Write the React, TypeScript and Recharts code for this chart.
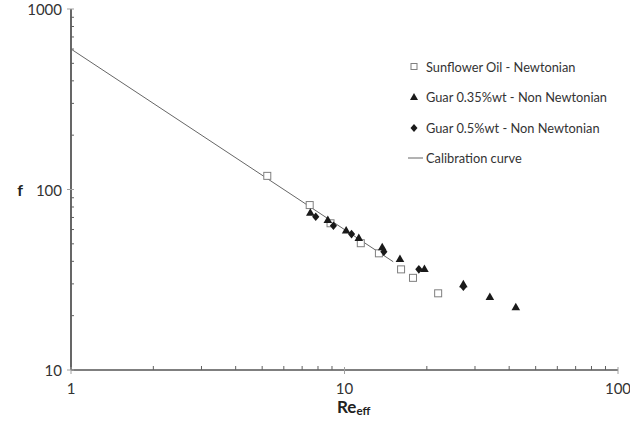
import React from 'react';
import { ScatterChart, Scatter, XAxis, YAxis } from 'recharts';

const sunflowerRe = [5.22, 7.46, 8.89, 11.47, 13.36, 16.1, 17.8, 22.0];
const sunflowerF = [119, 82, 65, 50.4, 44.3, 36.1, 32.4, 26.6];

const guar035Re = [7.5, 8.69, 10.14, 11.28, 13.74, 15.95, 19.6, 27.2, 34.0, 42.3];
const guar035F = [74.3, 67.8, 59.2, 53.8, 47.8, 41.2, 36.3, 29.9, 25.4, 22.3];

const guar05Re = [7.85, 9.11, 10.61, 13.93, 18.7, 27.2];
const guar05F = [70.6, 63, 56.6, 45.2, 36.1, 28.9];

const calibRe = [1, 15.07];
const calibF = [600, 39.8];

const xTicks = [1, 2, 3, 4, 5, 6, 7, 8, 9, 10, 20, 30, 40, 50, 60, 70, 80, 90, 100];
const yTicks = [10, 20, 30, 40, 50, 60, 70, 80, 90, 100, 200, 300, 400, 500, 600, 700, 800, 900, 1000];
const majorTicks = [1, 10, 100, 1000];

const legendLabels = [
  'Sunflower Oil - Newtonian',
  'Guar 0.35%wt - Non Newtonian',
  'Guar 0.5%wt - Non Newtonian',
  'Calibration curve',
];

const zip = (xs: number[], ys: number[]) => xs.map((x, i) => ({ re: x, f: ys[i] }));

const sunflower = zip(sunflowerRe, sunflowerF);
const guar035 = zip(guar035Re, guar035F);
const guar05 = zip(guar05Re, guar05F);
const calib = zip(calibRe, calibF);

const FONT = 'Lato, "Open Sans", sans-serif';
const TXT = '#333333';

const SquareShape = (p: any) => {
  const { cx, cy } = p;
  if (cx == null || cy == null) return null;
  return <rect x={cx - 3.5} y={cy - 3.5} width={7} height={7} fill="#ffffff" stroke="#7f7f7f" strokeWidth={1} />;
};

const TriangleShape = (p: any) => {
  const { cx, cy } = p;
  if (cx == null || cy == null) return null;
  return <polygon points={`${cx},${cy - 4.5} ${cx + 4.3},${cy + 3} ${cx - 4.3},${cy + 3}`} fill="#1a1a1a" />;
};

const DiamondShape = (p: any) => {
  const { cx, cy } = p;
  if (cx == null || cy == null) return null;
  return <polygon points={`${cx},${cy - 4.3} ${cx + 3.6},${cy} ${cx},${cy + 4.3} ${cx - 3.6},${cy}`} fill="#1a1a1a" />;
};

const NoShape = () => null;

const XTick = (p: any) => {
  const { x, y, payload } = p;
  const v = payload.value;
  if (majorTicks.includes(v)) {
    return (
      <g>
        <line x1={x} x2={x} y1={y - 3} y2={y + 4} stroke="#a0a0a0" strokeWidth={1} />
        <text x={x} y={y + 18} textAnchor="middle" dominantBaseline="central" fontSize={15} fontFamily={FONT} fill={TXT}>
          {v}
        </text>
      </g>
    );
  }
  return <line x1={x} x2={x} y1={y - 4} y2={y} stroke="#606060" strokeWidth={1} />;
};

const YTick = (p: any) => {
  const { x, y, payload } = p;
  const v = payload.value;
  if (majorTicks.includes(v)) {
    return (
      <g>
        <line x1={x - 4} x2={x + 3} y1={y} y2={y} stroke="#a0a0a0" strokeWidth={1} />
        <text x={x - 9} y={y} textAnchor="end" dominantBaseline="central" fontSize={15} fontFamily={FONT} fill={TXT}>
          {v}
        </text>
      </g>
    );
  }
  return <line x1={x} x2={x + 3} y1={y} y2={y} stroke="#606060" strokeWidth={1} />;
};

const Legend = () => {
  const rows = [66.5, 97, 128, 158];
  return (
    <svg width={630} height={422} style={{ position: 'absolute', left: 0, top: 0, pointerEvents: 'none' }}>
      <rect x={411} y={rows[0] - 3} width={6} height={6} fill="#fff" stroke="#7f7f7f" strokeWidth={1} />
      <polygon points={`414,${rows[1] - 4} 418,${rows[1] + 3} 410,${rows[1] + 3}`} fill="#1a1a1a" />
      <polygon points={`414,${rows[2] - 4} 417.5,${rows[2]} 414,${rows[2] + 4} 410.5,${rows[2]}`} fill="#1a1a1a" />
      <line x1={408} x2={423} y1={rows[3]} y2={rows[3]} stroke="#666" strokeWidth={1} />
      {legendLabels.map((t, i) => (
        <text key={t} x={426} y={rows[i]} dominantBaseline="central" fontSize={12.8} fontFamily={FONT} fill={TXT}>
          {t}
        </text>
      ))}
      <text x={20} y={189} textAnchor="middle" dominantBaseline="central" fontSize={16} fontWeight="bold" fontFamily={FONT} fill="#222">
        f
      </text>
      <text x={337} y={406} dominantBaseline="central" fontSize={17} fontWeight="bold" fontFamily={FONT} fill="#222">
        Re
        <tspan fontSize={11.5} dy={4}>eff</tspan>
      </text>
    </svg>
  );
};

export default function App() {
  return (
    <div style={{ position: 'absolute', left: 0, top: 0, width: 630, height: 422, background: '#fff' }}>
      <ScatterChart width={630} height={422} margin={{ top: 9, right: 12, bottom: 0, left: 0 }}>
        <XAxis
          dataKey="re"
          type="number"
          scale="log"
          domain={[1, 100]}
          ticks={xTicks}
          interval={0}
          allowDataOverflow
          height={52}
          tickSize={0}
          tickMargin={0}
          tick={<XTick />}
          axisLine={{ stroke: '#000', strokeWidth: 1.2 }}
          tickLine={false}
        />
        <YAxis
          dataKey="f"
          type="number"
          scale="log"
          domain={[10, 1000]}
          ticks={yTicks}
          interval={0}
          allowDataOverflow
          width={71}
          tickSize={0}
          tickMargin={0}
          tick={<YTick />}
          axisLine={{ stroke: '#000', strokeWidth: 1.2 }}
          tickLine={false}
        />
        <Scatter data={calib} line={{ stroke: '#666666', strokeWidth: 1 }} shape={<NoShape />} isAnimationActive={false} />
        <Scatter data={sunflower} shape={<SquareShape />} isAnimationActive={false} />
        <Scatter data={guar035} shape={<TriangleShape />} isAnimationActive={false} />
        <Scatter data={guar05} shape={<DiamondShape />} isAnimationActive={false} />
      </ScatterChart>
      <Legend />
    </div>
  );
}
